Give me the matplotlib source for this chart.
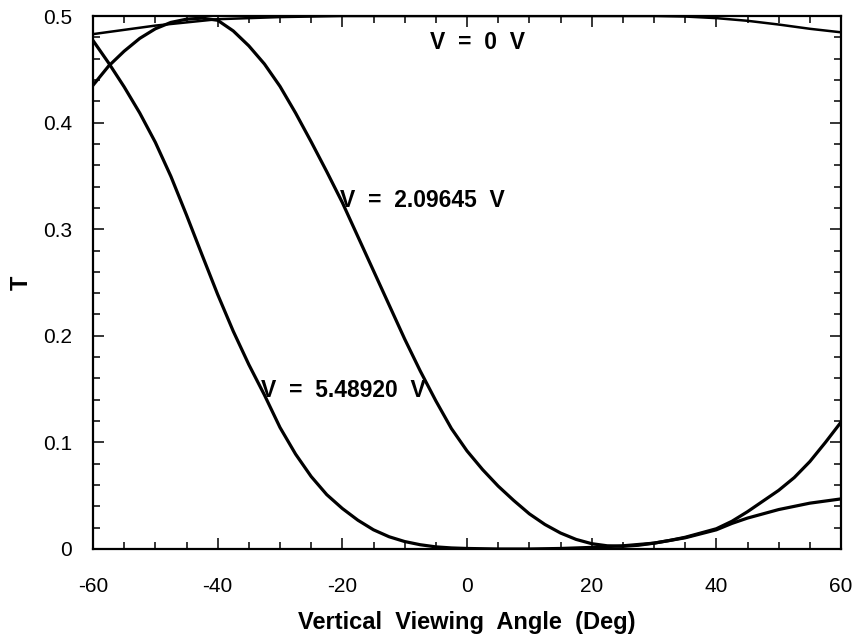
import numpy as np
import matplotlib.pyplot as plt
from matplotlib.ticker import MultipleLocator

plt.rcParams['font.family'] = ['Liberation Sans', 'DejaVu Sans']

# transmittance vs vertical viewing angle, read per curve
angle_v0 = [-60, -55, -50, -45, -40, -30, -20, -10, 0, 10, 20, 30, 35, 40, 45, 50, 55, 60]
T_v0 = [0.483, 0.487, 0.491, 0.494, 0.497, 0.499, 0.500, 0.500, 0.500, 0.500, 0.500,
        0.500, 0.4995, 0.498, 0.4955, 0.492, 0.488, 0.4847]

angle_v2 = [-60, -57.5, -55, -52.5, -50, -47.5, -45, -42.5, -40, -37.5, -35, -32.5,
            -30, -27.5, -25, -22.5, -20, -17.5, -15, -12.5, -10, -7.5, -5, -2.5,
            0, 2.5, 5, 7.5, 10, 12.5, 15, 17.5, 20, 22.5, 25, 27.5, 30, 32.5, 35,
            37.5, 40, 42.5, 45, 47.5, 50, 52.5, 55, 57.5, 60]
T_v2 = [0.435, 0.453, 0.467, 0.479, 0.488, 0.494, 0.497, 0.498, 0.496, 0.486,
        0.472, 0.455, 0.434, 0.409, 0.382, 0.354, 0.325, 0.293, 0.261, 0.229,
        0.197, 0.167, 0.139, 0.113, 0.092, 0.0745, 0.059, 0.0455, 0.033, 0.023,
        0.015, 0.009, 0.005, 0.003, 0.0025, 0.0035, 0.0055, 0.008, 0.011, 0.015,
        0.019, 0.026, 0.035, 0.045, 0.055, 0.067, 0.082, 0.100, 0.119]

angle_v5 = [-60, -57.5, -55, -52.5, -50, -47.5, -45, -42.5, -40, -37.5, -35, -32.5,
            -30, -27.5, -25, -22.5, -20, -17.5, -15, -12.5, -10, -7.5, -5, -2.5,
            0, 5, 10, 15, 20, 25, 30, 35, 40, 42.5, 45, 47.5, 50, 52.5, 55, 57.5, 60]
T_v5 = [0.477, 0.456, 0.4335, 0.409, 0.3815, 0.3495, 0.3133, 0.2758, 0.2388, 0.2043,
        0.1730, 0.1445, 0.1140, 0.0890, 0.0680, 0.0510, 0.0380, 0.0270, 0.0180, 0.0115,
        0.0070, 0.0040, 0.0020, 0.0010, 0.0005, 0.0, 0.0, 0.0005, 0.0015, 0.003,
        0.0055, 0.0105, 0.018, 0.024, 0.029, 0.033, 0.037, 0.040, 0.043, 0.045, 0.047]

labels = ['V  =  0  V', 'V  =  2.09645  V', 'V  =  5.48920  V']
label_pos = [(-5.9, 0.4747), (-20.4, 0.327), (-33.0, 0.149)]

xticks = [-60, -40, -20, 0, 20, 40, 60]
xtick_labels = ['-60', '-40', '-20', '0', '20', '40', '60']
yticks = [0, 0.1, 0.2, 0.3, 0.4, 0.5]
ytick_labels = ['0', '0.1', '0.2', '0.3', '0.4', '0.5']

fig = plt.figure(figsize=(8.58, 6.42), dpi=100)
ax = fig.add_axes([93 / 858, 1 - 549 / 642, 748 / 858, 533 / 642])

ax.plot(angle_v0, T_v0, color='black', lw=1.8)
ax.plot(angle_v2, T_v2, color='black', lw=2.3)
ax.plot(angle_v5, T_v5, color='black', lw=2.3)

for txt, (x, y) in zip(labels, label_pos):
    ax.text(x, y, txt, fontsize=16.5, fontweight='bold', ha='left', va='center')

ax.set_xlim(-60, 60)
ax.set_ylim(0, 0.5)
ax.set_xticks(xticks)
ax.set_xticklabels(xtick_labels)
ax.set_yticks(yticks)
ax.set_yticklabels(ytick_labels)
ax.xaxis.set_minor_locator(MultipleLocator(5))
ax.yaxis.set_minor_locator(MultipleLocator(0.02))

ax.tick_params(which='both', direction='in', top=True, right=True, width=1.1)
ax.tick_params(which='major', length=8)
ax.tick_params(which='minor', length=4.7)
ax.tick_params(axis='x', which='major', pad=20, labelsize=15)
ax.tick_params(axis='y', which='major', pad=15, labelsize=15)
for sp in ax.spines.values():
    sp.set_linewidth(1.6)

ax.set_xlabel('Vertical  Viewing  Angle  (Deg)', fontsize=17, fontweight='bold')
ax.xaxis.label.set_va('center')
ax.xaxis.set_label_coords(0.5, -(622 - 549) / 533)
ax.set_ylabel('T', fontsize=17, fontweight='bold')
ax.yaxis.label.set_va('center')
ax.yaxis.set_label_coords(-(93 - 21) / 748, 0.5)

fig.savefig('out.png', dpi=100)
